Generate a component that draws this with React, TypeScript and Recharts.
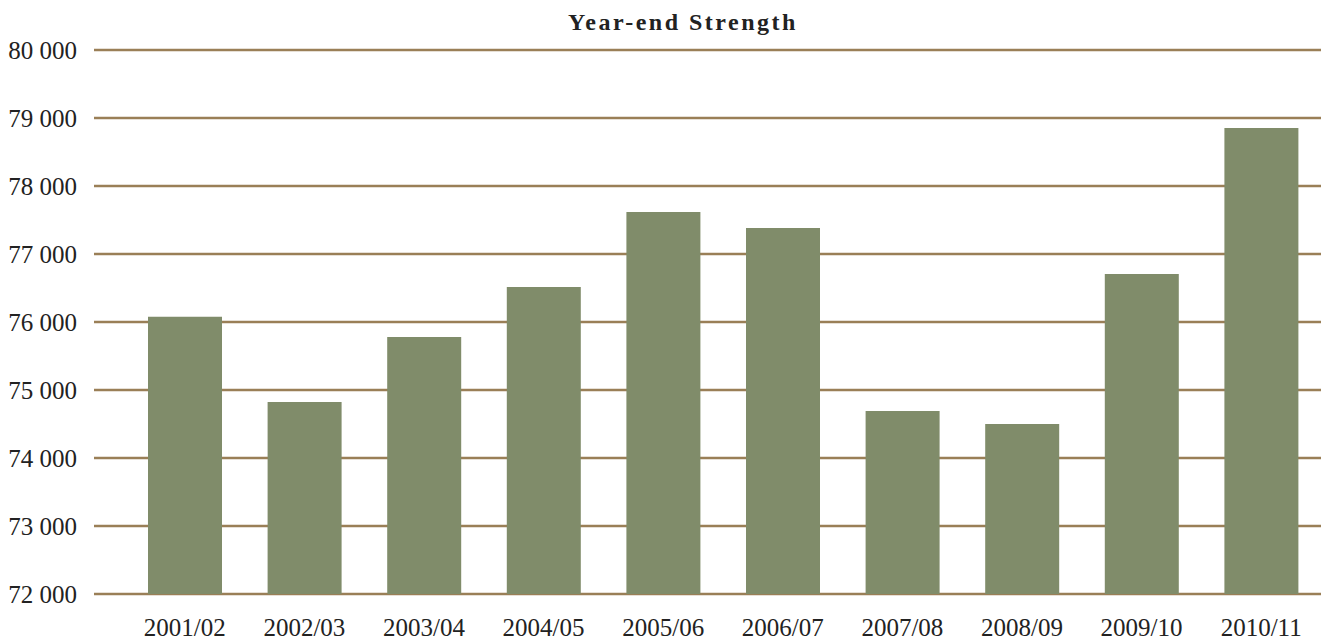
import { Bar, BarChart, CartesianGrid, XAxis, YAxis } from "recharts";

const years = [
  "2001/02",
  "2002/03",
  "2003/04",
  "2004/05",
  "2005/06",
  "2006/07",
  "2007/08",
  "2008/09",
  "2009/10",
  "2010/11",
];

const strength = [76078, 74824, 75779, 76515, 77618, 77382, 74691, 74500, 76706, 78853];

const yTicks = [72000, 73000, 74000, 75000, 76000, 77000, 78000, 79000, 80000];

const data = years.map((year, i) => ({ year, strength: strength[i] }));

const serif = "'Liberation Serif', 'Times New Roman', serif";

function fmt(v: number): string {
  const s = String(v);
  return s.slice(0, s.length - 3) + " " + s.slice(-3);
}

export default function App() {
  return (
    <div style={{ position: "absolute", left: 0, top: 0, width: 1321, height: 642, background: "#fff" }}>
      <div
        style={{
          position: "absolute",
          left: 433,
          width: 500,
          top: 9,
          textAlign: "center",
          fontFamily: serif,
          fontWeight: "bold",
          fontSize: 24,
          letterSpacing: 2.5,
          color: "#222",
        }}
      >
        Year-end Strength
      </div>
      <BarChart
        width={1321}
        height={642}
        data={data}
        margin={{ top: 50, right: 0, left: 0, bottom: 0 }}
      >
        <CartesianGrid vertical={false} stroke="#9a7f57" strokeWidth={2.5} />
        <XAxis
          dataKey="year"
          axisLine={false}
          tickLine={false}
          height={48}
          tickMargin={18}
          padding={{ left: 31, right: 0 }}
          interval={0}
          tick={{ fontSize: 25, fill: "#222", fontFamily: serif }}
        />
        <YAxis
          type="number"
          domain={[72000, 80000]}
          ticks={yTicks}
          width={94}
          axisLine={false}
          tickLine={false}
          tickMargin={11}
          tickFormatter={fmt}
          tick={{ fontSize: 25, fill: "#222", fontFamily: serif }}
          allowDataOverflow
        />
        <Bar dataKey="strength" fill="#808c6a" barSize={74} isAnimationActive={false} />
      </BarChart>
    </div>
  );
}
